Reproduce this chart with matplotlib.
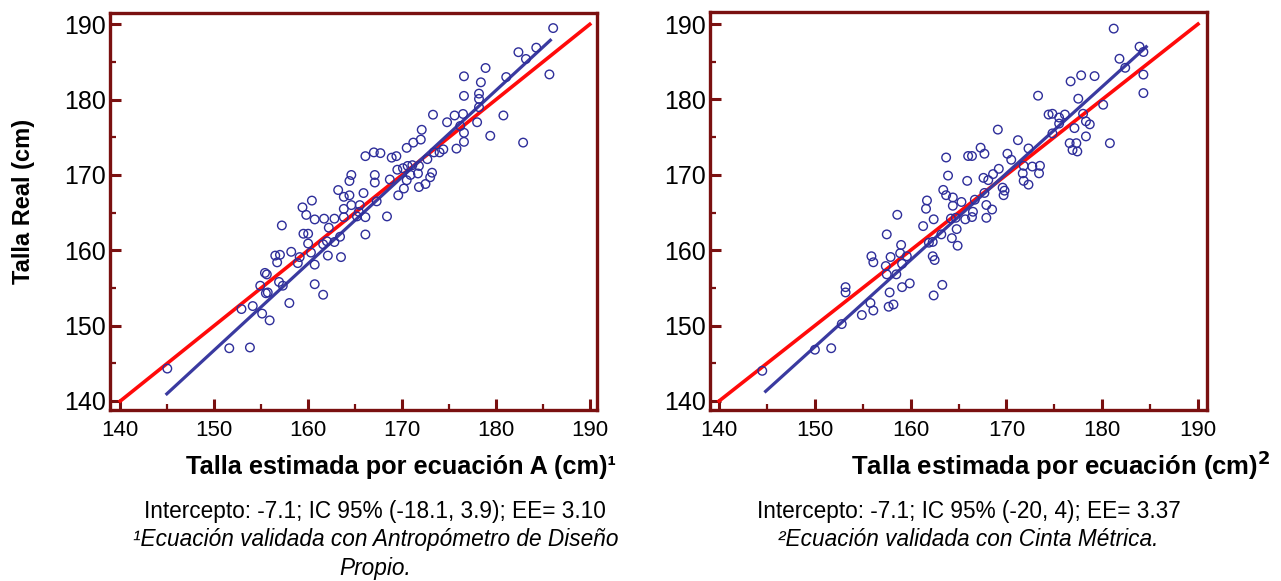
import matplotlib
matplotlib.use("Agg")
import matplotlib.pyplot as plt
from matplotlib.ticker import MultipleLocator

# --- data ---
# panel A: estimated height (x) vs real height (y)
xa = [176.6, 173.3, 174.8, 175.6, 176.5, 176.2, 178.0, 172.1, 172.0, 171.2,
      170.5, 174.4, 174.0, 175.8, 176.6, 176.6, 173.4, 172.7, 166.1, 167.0,
      167.7, 168.9, 169.4, 169.5, 170.1, 170.6, 171.1, 171.8, 171.7, 170.9,
      170.5, 170.2, 169.6, 171.8, 172.5, 173.0, 173.2, 168.7, 167.1, 167.1,
      164.6, 164.4, 163.2, 163.8, 164.4, 164.6, 163.8, 165.9, 165.5, 167.3,
      165.4, 165.2, 166.1, 168.4, 166.1, 160.4, 159.4, 159.8, 160.7, 161.7,
      162.8, 162.2, 163.4, 162.8, 162.0, 161.6, 157.2, 159.5, 160.0, 160.0,
      160.3, 160.7, 162.1, 163.5, 158.2, 159.1, 158.9, 156.5, 157.0, 156.7,
      155.4, 155.6, 154.9, 156.9, 157.3, 155.7, 155.5, 160.7, 161.6, 158.0,
      152.9, 154.1, 155.1, 155.9, 178.2, 178.2, 178.2, 163.8, 186.1, 185.7,
      184.3, 183.2, 182.4, 181.1, 178.9, 176.6, 178.4, 180.8, 182.9, 179.4,
      145.0, 151.6, 153.8]
ya = [180.5, 178.0, 177.0, 177.9, 178.1, 176.5, 177.0, 176.0, 174.7, 174.3,
      173.6, 173.4, 173.0, 173.5, 174.4, 175.6, 173.0, 172.1, 172.5, 173.0,
      172.9, 172.3, 172.5, 170.7, 170.9, 171.2, 171.3, 171.2, 170.2, 170.0,
      169.3, 168.2, 167.3, 168.4, 168.8, 169.7, 170.3, 169.4, 170.0, 169.0,
      170.0, 169.2, 168.0, 167.1, 167.3, 166.0, 165.5, 167.6, 166.0, 166.5,
      165.1, 164.5, 164.4, 164.5, 162.1, 166.6, 165.7, 164.7, 164.1, 164.2,
      164.2, 163.0, 161.8, 161.1, 161.2, 160.8, 163.3, 162.2, 162.2, 160.9,
      159.7, 158.1, 159.3, 159.1, 159.8, 159.1, 158.3, 159.3, 159.4, 158.4,
      157.0, 156.8, 155.3, 155.8, 155.3, 154.4, 154.3, 155.5, 154.1, 153.0,
      152.2, 152.6, 151.6, 150.7, 180.8, 180.1, 179.0, 164.4, 189.5, 183.35,
      186.9, 185.4, 186.3, 183.0, 184.2, 183.1, 182.3, 177.9, 174.3, 175.2,
      144.3, 147.0, 147.1]

# panel B
xb = [173.3, 177.5, 174.4, 174.8, 175.5, 176.1, 175.5, 177.1, 174.8, 176.6,
      177.3, 176.9, 177.4, 169.1, 171.2, 172.3, 167.3, 167.7, 166.0, 166.4,
      163.7, 170.1, 170.5, 169.2, 168.6, 168.1, 167.6, 167.7, 169.6, 169.8,
      169.7, 171.8, 172.7, 173.5, 171.7, 171.8, 172.3, 173.4, 163.9, 165.9,
      163.4, 163.7, 164.4, 165.3, 164.4, 161.7, 161.6, 166.7, 166.5, 166.4,
      165.7, 164.7, 164.2, 167.9, 168.5, 167.9, 158.6, 162.4, 161.3, 164.8,
      163.2, 164.3, 164.9, 162.3, 161.9, 157.5, 159.0, 158.9, 157.9, 155.9,
      156.1, 157.4, 159.1, 159.6, 162.3, 162.5, 158.5, 157.5, 159.9, 159.1,
      163.3, 162.4, 157.8, 153.2, 153.2, 155.8, 156.1, 157.7, 158.2, 154.9,
      181.2, 183.9, 184.3, 181.8, 182.4, 184.3, 184.3, 179.2, 177.8, 176.7,
      180.1, 178.0, 178.3, 178.7, 178.3, 180.8, 144.5, 150.0, 151.7, 152.8]
yb = [180.5, 180.1, 178.0, 178.1, 177.6, 178.0, 176.8, 176.2, 175.5, 174.2,
      174.2, 173.3, 173.1, 176.0, 174.6, 173.5, 173.6, 172.8, 172.5, 172.5,
      172.3, 172.8, 172.0, 170.8, 170.1, 169.3, 169.6, 167.6, 168.3, 167.9,
      167.3, 171.2, 171.1, 171.2, 170.2, 169.2, 168.7, 170.2, 169.9, 169.2,
      168.0, 167.3, 167.0, 166.4, 165.9, 166.6, 165.5, 166.7, 165.1, 164.4,
      164.1, 164.3, 164.2, 166.0, 165.4, 164.3, 164.7, 164.1, 163.2, 162.8,
      162.1, 161.6, 160.6, 161.1, 161.0, 162.1, 160.7, 159.6, 159.1, 159.2,
      158.4, 157.9, 158.2, 159.2, 159.2, 158.7, 156.8, 156.8, 155.6, 155.1,
      155.4, 154.0, 154.4, 155.1, 154.4, 153.0, 152.0, 152.5, 152.8, 151.4,
      189.4, 187.0, 186.3, 185.4, 184.2, 183.3, 180.85, 183.1, 183.2, 182.4,
      179.3, 178.1, 177.1, 176.7, 175.1, 174.2, 144.0, 146.8, 147.0, 150.2]

# fitted lines (slope, intercept, x range) and identity line
fit_a = (1.149, -25.6, 144.95, 185.8)
fit_b = (1.150, -25.3, 144.85, 184.6)
identity = [140, 190]

ticks = [140, 150, 160, 170, 180, 190]

frame_col = "#7a1010"
pt_col = "#2e2e9a"
fit_col = "#3a3aa0"
font = "Liberation Sans"

fig = plt.figure(figsize=(12.81, 5.81), dpi=100)


def panel(rect, x, y, fit, ylim, xlim, show_ylab):
    ax = fig.add_axes(rect)
    ax.plot(identity, identity, color="#ff0a0a", lw=2.6, zorder=2)
    m, b, x0, x1 = fit
    ax.plot([x0, x1], [m * x0 + b, m * x1 + b], color=fit_col, lw=2.3, zorder=3)
    ax.scatter(x, y, s=38, facecolors="none", edgecolors=pt_col, linewidths=1.0, zorder=4)
    ax.set_xlim(*xlim)
    ax.set_ylim(*ylim)
    ax.set_xticks(ticks)
    ax.set_yticks(ticks)
    ax.xaxis.set_minor_locator(MultipleLocator(5))
    ax.yaxis.set_minor_locator(MultipleLocator(5))
    for s in ax.spines.values():
        s.set_color(frame_col)
        s.set_linewidth(2.4)
    ax.tick_params(which="both", direction="in", color=frame_col, width=2.2,
                   top=False, right=False)
    ax.tick_params(which="major", length=8)
    ax.tick_params(which="minor", length=4, width=1.6)
    ax.tick_params(axis="y", pad=3, labelsize=18)
    ax.tick_params(axis="x", pad=7, labelsize=16)
    for lab in ax.get_xticklabels() + ax.get_yticklabels():
        lab.set_family(font)
    if show_ylab:
        ax.set_ylabel("Talla Real (cm)", fontsize=17, fontweight="bold", family=font)
        ax.yaxis.set_label_coords(-0.154, 0.526)
    return ax


ax1 = panel([0.0859, 0.2943, 0.380, 0.6833], xa, ya, fit_a,
            (138.8, 191.5), (138.9, 190.75), True)
ax2 = panel([0.5543, 0.2943, 0.388, 0.6850], xb, yb, fit_b,
            (138.8, 191.6), (139.05, 190.95), False)

fig.text(0.313, 0.196, "Talla estimada por ecuación A (cm)\u00b9", fontsize=18.3,
         fontweight="bold", family=font, ha="center", va="center")
fig.text(0.828, 0.200, "Talla estimada por ecuación (cm)$^\\mathbf{2}$", fontsize=18.5,
         fontweight="bold", family=font, ha="center", va="center")

fig.text(0.293, 0.120, "Intercepto: -7.1; IC 95% (-18.1, 3.9); EE= 3.10",
         fontsize=16.3, family=font, ha="center", va="center")
fig.text(0.293, 0.071, "\u00b9Ecuación validada con Antropómetro de Diseño",
         fontsize=16.3, family=font, style="italic", ha="center", va="center")
fig.text(0.293, 0.022, "Propio.", fontsize=16.3, family=font, style="italic",
         ha="center", va="center")
fig.text(0.756, 0.120, "Intercepto: -7.1; IC 95% (-20, 4); EE= 3.37",
         fontsize=16.3, family=font, ha="center", va="center")
fig.text(0.756, 0.071, "\u00b2Ecuación validada con Cinta Métrica.",
         fontsize=16.3, family=font, style="italic", ha="center", va="center")

fig.savefig("out.png", dpi=100)
